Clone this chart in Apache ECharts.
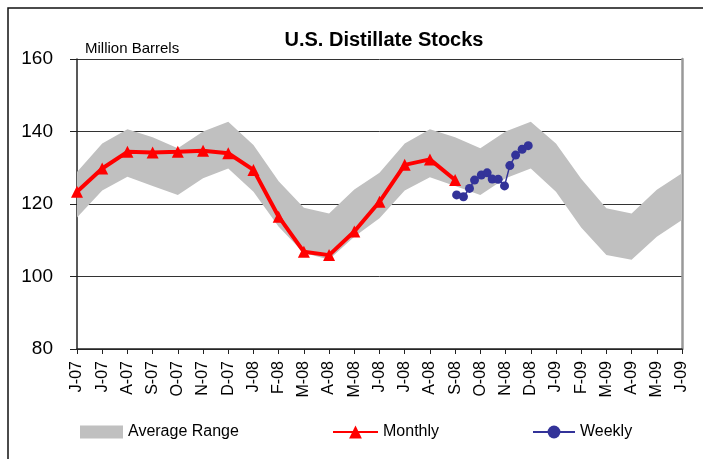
<!DOCTYPE html>
<html>
<head>
<meta charset="utf-8">
<script src="https://cdn.jsdelivr.net/npm/echarts@6/dist/echarts.min.js"></script>
<style>
  html, body { margin: 0; padding: 0; background: #fff; }
  #chart { width: 703px; height: 459px; }
</style>
</head>
<body>
<div id="chart"></div>
<script>
// month labels, Jun-07 .. Jun-09
const months = ['J-07', 'J-07', 'A-07', 'S-07', 'O-07', 'N-07', 'D-07', 'J-08', 'F-08', 'M-08', 'A-08', 'M-08',
  'J-08', 'J-08', 'A-08', 'S-08', 'O-08', 'N-08', 'D-08', 'J-09', 'F-09', 'M-09', 'A-09', 'M-09', 'J-09'];

// average range band (million barrels)
const rangeLow = [116.3, 123.7, 127.5, 125.0, 122.5, 127.1, 129.8, 123.4, 113.7, 106.5, 104.7, 111.0,
  116.1, 123.7, 127.4, 125.0, 122.5, 127.1, 129.8, 123.4, 113.5, 105.9, 104.6, 111.0, 115.6];
const rangeHigh = [128.8, 136.7, 140.6, 138.4, 135.4, 140.0, 142.7, 136.3, 126.3, 119.0, 117.4, 124.0,
  128.6, 136.7, 140.6, 138.4, 135.4, 140.0, 142.7, 136.7, 127.0, 118.8, 117.4, 123.9, 128.5];

// monthly stocks Jun-07 .. Sep-08
const monthly = [123.4, 129.8, 134.4, 134.2, 134.4, 134.7, 134.0, 129.4, 116.5, 106.8, 105.9, 112.4,
  120.6, 130.8, 132.3, 126.6];

// weekly stocks, position in months from Jun-07
const weeklyPos = [15.06, 15.33, 15.57, 15.77, 16.04, 16.27, 16.47, 16.71, 16.96, 17.17, 17.40, 17.66, 17.90];
const weekly = [122.5, 122.0, 124.3, 126.6, 128.0, 128.6, 126.9, 126.8, 125.0, 130.6, 133.5, 135.1, 136.1];

const yTicks = [80, 100, 120, 140, 160];

const font = '"Liberation Sans", Arial, sans-serif';
const chart = echarts.init(document.getElementById('chart'), null, {renderer: 'canvas'});

const legendText = {fontSize: 16, color: '#000', fontFamily: font};

const option = {
  animation: false,
  textStyle: {fontFamily: font},
  title: {
    text: 'U.S. Distillate Stocks',
    left: 379,
    textAlign: 'center',
    top: 25,
    textStyle: {fontSize: 20, fontWeight: 'bold', color: '#000', fontFamily: font}
  },
  graphic: [
    {
      type: 'rect',
      shape: {x: 8, y: 8, width: 900, height: 700},
      style: {fill: 'none', stroke: '#111', lineWidth: 1.5},
      silent: true
    },
    {
      type: 'text',
      left: 85,
      top: 41,
      style: {text: 'Million Barrels', fontSize: 15, fill: '#000', fontFamily: font}
    }
  ],
  legend: [
    {
      left: 80, top: 424, padding: 0, itemWidth: 43, itemHeight: 13, itemGap: 0,
      data: [{name: 'Average Range', icon: 'rect', itemStyle: {color: '#c0c0c0'}}],
      textStyle: legendText
    },
    {
      left: 332, top: 424, padding: 0, itemWidth: 45, itemHeight: 16, itemGap: 0,
      data: ['Monthly'],
      textStyle: legendText
    },
    {
      left: 532, top: 424, padding: 0, itemWidth: 42, itemHeight: 16, itemGap: 0,
      data: ['Weekly'],
      textStyle: legendText
    }
  ],
  grid: {left: 77, right: 21, top: 59, bottom: 110, containLabel: false},
  xAxis: [
    {
      type: 'category',
      data: months,
      boundaryGap: false,
      axisLine: {lineStyle: {color: '#222', width: 1.5}},
      axisTick: {show: true, length: 5, inside: false, lineStyle: {color: '#222'}},
      axisLabel: {
        rotate: 90, interval: 0, fontSize: 16, color: '#000', margin: 12, fontFamily: font
      },
      splitLine: {show: false}
    },
    {
      type: 'value',
      min: 0,
      max: months.length - 1,
      show: false
    }
  ],
  yAxis: [
    {
      type: 'value',
      min: yTicks[0],
      max: yTicks[yTicks.length - 1],
      interval: 20,
      axisLine: {show: true, lineStyle: {color: '#222', width: 1.5}},
      axisTick: {show: true, length: 7, lineStyle: {color: '#222'}},
      axisLabel: {fontSize: 19, color: '#000', margin: 24, fontFamily: font},
      splitLine: {show: true, lineStyle: {color: '#333', width: 1}}
    },
    {
      type: 'value',
      position: 'right',
      min: yTicks[0],
      max: yTicks[yTicks.length - 1],
      interval: 20,
      axisLine: {show: true, lineStyle: {color: '#999', width: 2.5}},
      axisTick: {show: false},
      axisLabel: {show: false},
      splitLine: {show: false}
    }
  ],
  series: [
    {
      name: 'rangeBase',
      type: 'line',
      stack: 'band',
      data: rangeLow,
      symbol: 'none',
      lineStyle: {opacity: 0},
      silent: true,
      z: 1
    },
    {
      name: 'Average Range',
      type: 'line',
      stack: 'band',
      data: rangeHigh.map((v, i) => +(v - rangeLow[i]).toFixed(2)),
      symbol: 'none',
      lineStyle: {opacity: 0},
      itemStyle: {color: '#c0c0c0'},
      areaStyle: {color: '#c0c0c0', opacity: 1},
      silent: true,
      z: 1
    },
    {
      name: 'Monthly',
      type: 'line',
      data: monthly,
      symbol: 'triangle',
      symbolSize: 12,
      itemStyle: {color: '#ff0000'},
      lineStyle: {color: '#ff0000', width: 4},
      z: 3
    },
    {
      name: 'Weekly',
      type: 'line',
      xAxisIndex: 1,
      data: weeklyPos.map((x, i) => [x, weekly[i]]),
      symbol: 'circle',
      symbolSize: 9,
      itemStyle: {color: '#333399'},
      lineStyle: {color: '#333399', width: 1.5},
      z: 4
    }
  ]
};

chart.setOption(option);
</script>
</body>
</html>
